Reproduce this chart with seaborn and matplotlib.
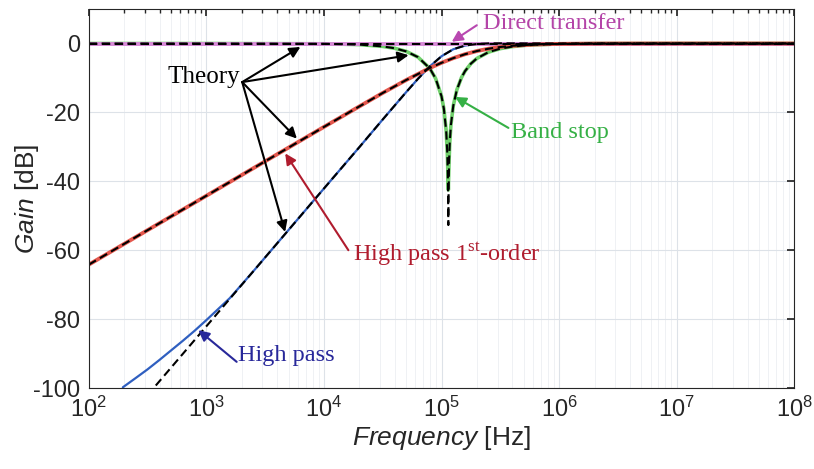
import numpy as np
import pandas as pd
import matplotlib
matplotlib.use('Agg')
import matplotlib.pyplot as plt
import seaborn as sns

# values (frequency in Hz, gain in dB)

direct_freq = [1e2, 1e8]
direct_gain = [0, 0]

hp1_freq = [1e2, 316, 1e3, 3162, 1e4, 2.0e4, 3.16e4, 5.01e4, 7.94e4, 1.0e5, 1.259e5,
            1.585e5, 1.995e5, 2.512e5, 3.162e5, 3.981e5, 6.31e5, 1e6, 2e6, 4e6, 1e7, 1e8]
hp1_gain = [-64.2, -54.2, -44.2, -34.2, -24.22, -18.27, -14.36, -10.60, -7.13, -5.60, -4.25,
            -3.11, -2.20, -1.51, -1.01, -0.67, -0.28, -0.11, -0.03, -0.01, 0, 0]

hp2_theory_freq = [1e2, 316, 1e3, 3162, 1e4, 2.0e4, 3.16e4, 5.01e4, 6.31e4, 7.94e4, 1.0e5,
                   1.259e5, 1.585e5, 1.995e5, 2.512e5, 3.162e5, 5.012e5, 1e6, 1e8]
hp2_theory_gain = [-122.1, -102.1, -82.1, -62.1, -42.1, -30.1, -22.07, -14.10, -10.24, -6.67, -3.70,
                   -1.67, -0.59, -0.14, 0.02, 0.05, 0.02, 0, 0]

hp2_meas_freq = [195, 251, 316, 398, 501, 631, 794, 1e3, 1259, 1585, 1995, 2512, 3162,
                 1e4, 2.0e4, 3.16e4, 5.01e4, 6.31e4, 7.94e4, 1.0e5, 1.259e5, 1.585e5,
                 1.995e5, 2.512e5, 3.162e5, 5.012e5, 1e6, 1e8]
hp2_meas_gain = [-99.8, -97.1, -94.6, -91.9, -89.1, -86.3, -83.4, -80.3, -77.1, -73.9, -70.0, -66.1, -62.1,
                 -42.1, -30.1, -22.07, -14.10, -10.24, -6.67, -3.70, -1.67, -0.59,
                 -0.14, 0.02, 0.05, 0.02, 0, 0]

bs_freq = [1e2, 1e3, 1e4, 2.0e4, 3.16e4, 3.98e4, 5.01e4, 6.31e4, 7.94e4, 8.91e4, 1.0e5,
           1.047e5, 1.096e5, 1.122e5, 1.135e5, 1.143e5, 1.148e5, 1.161e5, 1.175e5, 1.202e5,
           1.259e5, 1.349e5, 1.479e5, 1.585e5, 1.778e5, 1.995e5, 2.512e5, 3.162e5, 3.981e5,
           5.012e5, 6.31e5, 1e6, 2e6, 1e7, 1e8]
bs_theory_gain = [0, 0, -0.08, -0.32, -0.84, -1.37, -2.29, -3.96, -7.20, -10.16, -15.31,
                  -18.93, -25.38, -32.4, -40.9, -52.7, -44.5, -33.6, -28.9, -23.65,
                  -18.07, -13.49, -9.87, -8.02, -5.84, -4.35, -2.50, -1.49, -0.91,
                  -0.56, -0.35, -0.14, -0.03, 0, 0]
bs_meas_gain = [0, 0, -0.08, -0.32, -0.84, -1.37, -2.29, -3.96, -7.20, -10.16, -15.31,
                -18.93, -25.38, -32.4, -38.5, -42.5, -39.5, -33.6, -28.9, -23.65,
                -18.07, -13.49, -9.87, -8.02, -5.84, -4.35, -2.50, -1.49, -0.91,
                -0.56, -0.35, -0.14, -0.03, 0, 0]

sns.set_theme(style='white')
plt.rcParams['font.family'] = ['Liberation Sans', 'DejaVu Sans']
plt.rcParams['mathtext.fontset'] = 'custom'
plt.rcParams['mathtext.rm'] = 'Liberation Serif'
plt.rcParams['mathtext.it'] = 'Liberation Sans:italic'
plt.rcParams['axes.unicode_minus'] = False

fig = plt.figure(figsize=(8.14, 4.69), dpi=100)
ax = fig.add_axes([0.109, 0.1727, 0.8668, 0.808])
ax.set_xscale('log')

def line(f, g, **kw):
    df = pd.DataFrame({'freq': f, 'gain': g})
    sns.lineplot(data=df, x='freq', y='gain', ax=ax, estimator=None, sort=False, **kw)

# measured curves
line(bs_freq, bs_meas_gain, color='#6fd06a', lw=2.6)
line(hp2_meas_freq, hp2_meas_gain, color='#2f5fc0', lw=1.6)
line(direct_freq, direct_gain, color='#d88ad8', lw=2.8)
line(hp1_freq, hp1_gain, color='#e4574d', lw=2.8)

# theory curves (dashed)
dash = (0, (4, 2.2))
line(direct_freq, direct_gain, color='black', lw=1.5, linestyle=dash)
line(hp1_freq, hp1_gain, color='black', lw=1.5, linestyle=dash)
line(hp2_theory_freq, hp2_theory_gain, color='black', lw=1.5, linestyle=dash)
line(bs_freq, bs_theory_gain, color='black', lw=1.5, linestyle=dash)

ax.set_xlim(1e2, 1e8)
ax.set_ylim(-100, 10)
ax.set_yticks([-100, -80, -60, -40, -20, 0])
ax.set_xticks([1e2, 1e3, 1e4, 1e5, 1e6, 1e7, 1e8])

ax.grid(True, which='major', color='#dde2e8', lw=0.8)
ax.grid(True, which='minor', axis='x', color='#eceff3', lw=0.6)
ax.set_axisbelow(True)

for s in ax.spines.values():
    s.set_color('#262626')
    s.set_linewidth(0.8)
ax.tick_params(which='both', direction='in', top=True, right=True, color='#262626',
               labelsize=17, labelcolor='#262626')
ax.tick_params(which='major', length=5, pad=6)
ax.tick_params(which='minor', length=3)

ax.set_xlabel(r'$\mathit{Frequency}$ [Hz]', fontsize=19, color='#262626', labelpad=2)
ax.set_ylabel(r'$\mathit{Gain}$ [dB]', fontsize=19, color='#262626')
ax.yaxis.set_label_coords(-0.068, 0.5)

serif = 'Liberation Serif'
tsize = 17.5

# Theory label and arrows
ax.text(10**3.29, -9.8, 'Theory', fontsize=18, family=serif, color='black', ha='right', va='center')
start = (10**3.305, -11.2)
for tip in [(10**3.80, -1.0), (10**4.72, -3.4), (10**3.77, -27.6), (10**3.67, -54.7)]:
    ax.annotate('', xy=tip, xytext=start,
                arrowprops=dict(arrowstyle='-|>', color='black', lw=1.5, mutation_scale=16, shrinkA=0, shrinkB=0))

ax.text(10**5.355, 5.8, 'Direct transfer', fontsize=tsize, family=serif, color='#b444a8', ha='left', va='center')
ax.annotate('', xy=(10**5.087, 0.5), xytext=(10**5.30, 5.3),
            arrowprops=dict(arrowstyle='-|>', color='#b848b0', lw=1.5, mutation_scale=16, shrinkA=0, shrinkB=0))

ax.text(10**5.59, -25.7, 'Band stop', fontsize=tsize, family=serif, color='#35b045', ha='left', va='center')
ax.annotate('', xy=(10**5.115, -15.5), xytext=(10**5.569, -24.5),
            arrowprops=dict(arrowstyle='-|>', color='#35b045', lw=1.5, mutation_scale=16, shrinkA=0, shrinkB=0))

ax.text(10**4.25, -61.0, r'High pass 1$^{\mathrm{st}}$-order', fontsize=tsize, family=serif,
        color='#b01c2e', ha='left', va='center')
ax.annotate('', xy=(10**3.671, -31.9), xytext=(10**4.208, -60.0),
            arrowprops=dict(arrowstyle='-|>', color='#b01c2e', lw=1.5, mutation_scale=16, shrinkA=0, shrinkB=0))

ax.text(10**3.272, -90.5, 'High pass', fontsize=tsize, family=serif, color='#28289a', ha='left', va='center')
ax.annotate('', xy=(10**2.932, -83.2), xytext=(10**3.258, -92.4),
            arrowprops=dict(arrowstyle='-|>', color='#28289a', lw=1.5, mutation_scale=16, shrinkA=0, shrinkB=0))

fig.savefig('out.png', dpi=100)
